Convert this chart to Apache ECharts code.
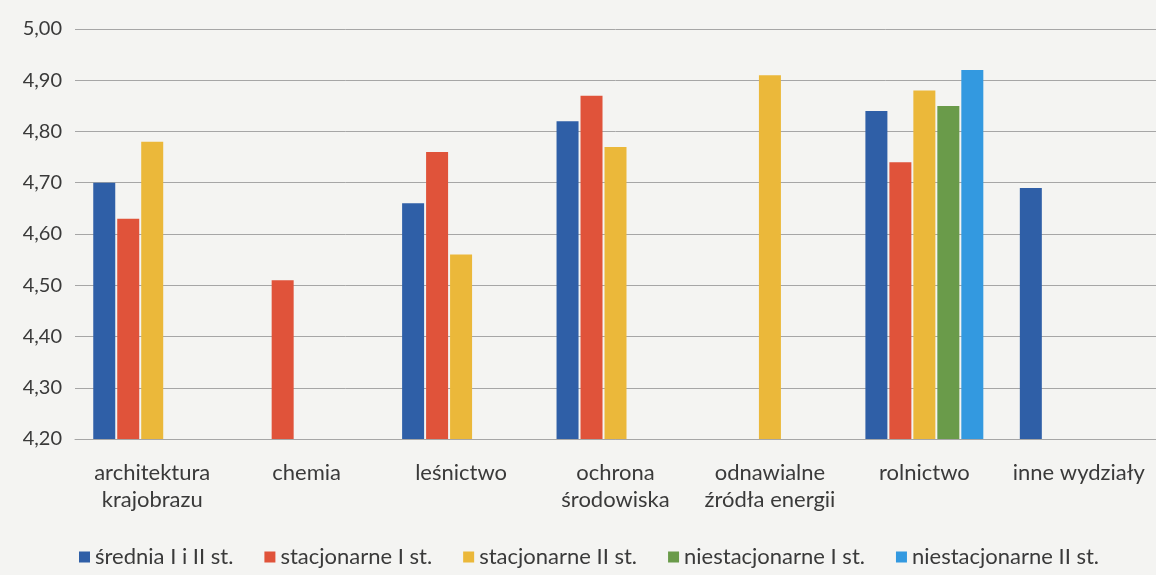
<!DOCTYPE html>
<html>
<head>
<meta charset="utf-8">
<script src="https://cdn.jsdelivr.net/npm/echarts@6/dist/echarts.min.js"></script>
<style>
html,body{margin:0;padding:0;background:#f4f4f2;}
#chart{width:1156px;height:575px;}
</style>
</head>
<body>
<div id="chart"></div>
<script>
const categories = ['architektura\nkrajobrazu', 'chemia', 'leśnictwo', 'ochrona\nśrodowiska', 'odnawialne\nźródła energii', 'rolnictwo', 'inne wydziały'];
const seriesNames = ['średnia I i II st.', 'stacjonarne I st.', 'stacjonarne II st.', 'niestacjonarne I st.', 'niestacjonarne II st.'];
const sredniaIiII = [4.70, null, 4.66, 4.82, null, 4.84, 4.69];
const stacjonarneI = [4.63, 4.51, 4.76, 4.87, null, 4.74, null];
const stacjonarneII = [4.78, null, 4.56, 4.77, 4.91, 4.88, null];
const niestacjonarneI = [null, null, null, null, null, 4.85, null];
const niestacjonarneII = [null, null, null, null, null, 4.92, null];
const seriesData = [sredniaIiII, stacjonarneI, stacjonarneII, niestacjonarneI, niestacjonarneII];
const colors = ['#2f5fa7', '#e0533a', '#ebb83a', '#6a9b4a', '#3399e0'];

const chart = echarts.init(document.getElementById('chart'));
const font = 'Lato, "Open Sans", sans-serif';
chart.setOption({
  backgroundColor: '#f4f4f2',
  color: colors,
  animation: false,
  textStyle: { fontFamily: font },
  grid: { left: 75, right: -9, top: 29, bottom: 136 },
  legend: {
    left: 74, top: 541,
    itemWidth: 11, itemHeight: 11, itemGap: 31,
    icon: 'rect',
    textStyle: { fontSize: 22, color: '#3a3a3a', fontFamily: font },
    data: seriesNames
  },
  xAxis: {
    type: 'category',
    data: categories,
    axisLine: { show: true, lineStyle: { color: '#a6a6a6', width: 1 } },
    axisTick: { show: false },
    axisLabel: { fontSize: 22, color: '#3a3a3a', margin: 20, lineHeight: 27, interval: 0, fontFamily: font }
  },
  yAxis: {
    type: 'value',
    min: 4.2, max: 5.0, interval: 0.1,
    axisLine: { show: false },
    axisTick: { show: false },
    axisLabel: { fontSize: 20, color: '#3a3a3a', margin: 13, fontFamily: font,
      formatter: v => v.toFixed(2).replace('.', ',') },
    splitLine: { show: true, lineStyle: { color: '#a6a6a6', width: 1 } }
  },
  series: seriesNames.map((n, i) => ({
    name: n,
    type: 'bar',
    data: seriesData[i],
    barWidth: 22,
    barGap: '9%'
  }))
});
</script>
</body>
</html>
